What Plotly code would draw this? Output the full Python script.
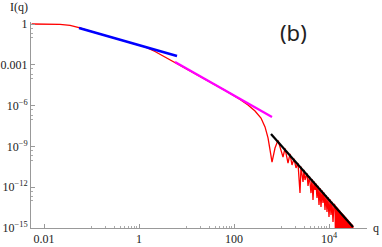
import plotly.graph_objects as go

# ---- data (log-log) ----
red_q = [0.0055, 0.0105, 0.0217, 0.0353, 0.0546, 0.093, 0.245, 0.647, 1.34, 2.17, 3.53, 5.73,
         19.2, 64.6, 134, 197, 277, 370, 450, 520, 573, 631, 730,
         844, 1076, 1186, 1371, 1510, 1663, 1833, 2020, 2225, 2451, 2574, 2836, 2977, 3125,
         3443, 3614, 3883, 4178, 4385, 4603, 4831, 5071, 5322, 5586, 5863, 6154, 6460, 6780,
         7117, 7470, 7840, 8230, 8640, 9070, 9520, 10000, 10500, 11020, 11560, 12140, 12740,
         13377, 13705, 14041, 14386, 14739, 15100, 15471, 15850, 16239, 16637, 17045, 17463,
         17891, 18330, 18779, 19240, 19712, 20195, 20690, 21198, 21718, 22250, 22796, 23355,
         23928, 24515, 25116, 25732, 26363, 27010, 27672, 28351, 29046, 29758, 30488, 31236, 32002]
red_I = [1.0, 1.0, 0.95, 0.78, 0.55, 0.30, 0.113, 0.043, 0.0204, 0.0095, 0.0037, 0.0016,
         1.45e-4, 1.32e-5, 2.8e-6, 1.1e-6, 4.0e-7, 1.23e-7, 2.7e-8, 4.2e-9, 5.5e-10, 7.1e-11, 7.6e-10,
         2.8e-9, 1.66e-10, 7.1e-10, 6.0e-11, 2.8e-10, 4.3e-11, 1.26e-10, 2.6e-11, 5.9e-11, 3.7e-13,
         3.3e-11, 2.4e-12, 1.86e-11, 3.4e-12,
         1.05e-11, 1.23e-12, 6.4e-12, 3.7e-13, 4.0e-12, 1.15e-13, 2.7e-12, 6.2e-13, 1.87e-12, 1.6e-13,
         1.27e-12, 4.9e-14, 8.6e-13, 3.5e-14,
         5.9e-13, 6.9e-14, 4.0e-13, 2.1e-14, 2.7e-13, 1.5e-14, 1.87e-13, 6.4e-15, 1.27e-13, 9.1e-15,
         8.6e-14, 2.8e-15, 5.9e-14,
         4.8e-14, 1e-16, 4.0e-14, 1e-16, 3.3e-14, 1e-16, 2.7e-14, 1e-16, 2.2e-14, 1e-16, 1.87e-14, 1e-16,
         1.5e-14, 1e-16, 1.27e-14, 1e-16, 1.05e-14, 1e-16, 8.6e-15, 1e-16, 7.1e-15, 1e-16, 5.9e-15, 1e-16,
         4.8e-15, 1e-16, 4.0e-15, 1e-16, 3.3e-15, 1e-16, 2.7e-15, 1e-16, 2.2e-15, 1e-16, 1.87e-15, 1e-16, 1.5e-15]

blue_q = [0.0546, 6.31]
blue_I = [0.51, 0.0044]

magenta_q = [5.73, 631]
magenta_I = [1.6e-3, 1.45e-7]

black_q = [601, 32000]
black_I = [8.2e-9, 1.2e-15]

x_tickvals = [0.01, 1, 100, 1e4]
x_ticktext = ["0.01", "1", "100", "10<sup>4</sup>"]
y_tickvals = [1, 1e-3, 1e-6, 1e-9, 1e-12, 1e-15]
y_ticktext = ["1", "0.001", "10<sup>−6</sup>", "10<sup>−9</sup>", "10<sup>−12</sup>", "10<sup>−15</sup>"]

x_minor = [0.1, 0.2, 0.3, 0.4, 0.5, 0.6, 0.7, 0.8, 0.9, 10, 20, 30, 40, 50, 60, 70, 80, 90,
           1000, 2000, 3000, 4000, 5000, 6000, 7000, 8000, 9000]
y_minor = [0.1, 0.2, 0.5, 1e-4, 2e-4, 5e-4, 1e-7, 2e-7, 5e-7, 1e-10, 2e-10, 5e-10,
           1e-13, 2e-13, 5e-13]

fig = go.Figure()
fig.add_trace(go.Scatter(x=red_q, y=red_I, mode="lines",
                         line=dict(color="#ff0000", width=1.3), showlegend=False))
fig.add_trace(go.Scatter(x=blue_q, y=blue_I, mode="lines",
                         line=dict(color="#0000ff", width=2.6), showlegend=False))
fig.add_trace(go.Scatter(x=magenta_q, y=magenta_I, mode="lines",
                         line=dict(color="#ff00ff", width=2.2), showlegend=False))
fig.add_trace(go.Scatter(x=black_q, y=black_I, mode="lines",
                         line=dict(color="#000000", width=2.2), showlegend=False))

tickfont = dict(family="Liberation Serif", size=12, color="#222")
axis_common = dict(showgrid=False, zeroline=False, showline=True, linecolor="#999",
                   linewidth=1, ticks="inside", ticklen=4, tickcolor="#999",
                   tickfont=tickfont, automargin=False)

fig.update_xaxes(type="log", range=[-2.274, 4.80], tickvals=x_tickvals, ticktext=x_ticktext,
                 minor=dict(tickvals=x_minor, ticklen=2, tickcolor="#aaa", ticks="inside"),
                 **axis_common)
fig.update_yaxes(type="log", range=[-15, 0.147], tickvals=y_tickvals, ticktext=y_ticktext,
                 minor=dict(tickvals=y_minor, ticklen=2, tickcolor="#aaa", ticks="inside"),
                 **axis_common)

fig.add_annotation(text="I(q)", xref="paper", yref="paper", x=-0.036, y=1.072,
                   xanchor="center", yanchor="middle",
                   showarrow=False, font=dict(family="Liberation Serif", size=12, color="#222"))
fig.add_annotation(text="q", xref="paper", yref="paper", x=1.027, y=0.0,
                   xanchor="center", yanchor="middle",
                   showarrow=False, font=dict(family="Liberation Serif", size=12, color="#222"))
fig.add_annotation(text="(b)", xref="paper", yref="paper", x=0.78, y=0.951,
                   xanchor="center", yanchor="middle",
                   showarrow=False, font=dict(family="Noto Sans", size=22, color="#222"))

fig.update_layout(width=382, height=247, margin=dict(l=31, r=15, t=22, b=19),
                  paper_bgcolor="white", plot_bgcolor="white")

fig.write_html("out.html", config={"displayModeBar": False},
               post_script="document.body.style.margin='0px';document.body.style.overflow='hidden';")
